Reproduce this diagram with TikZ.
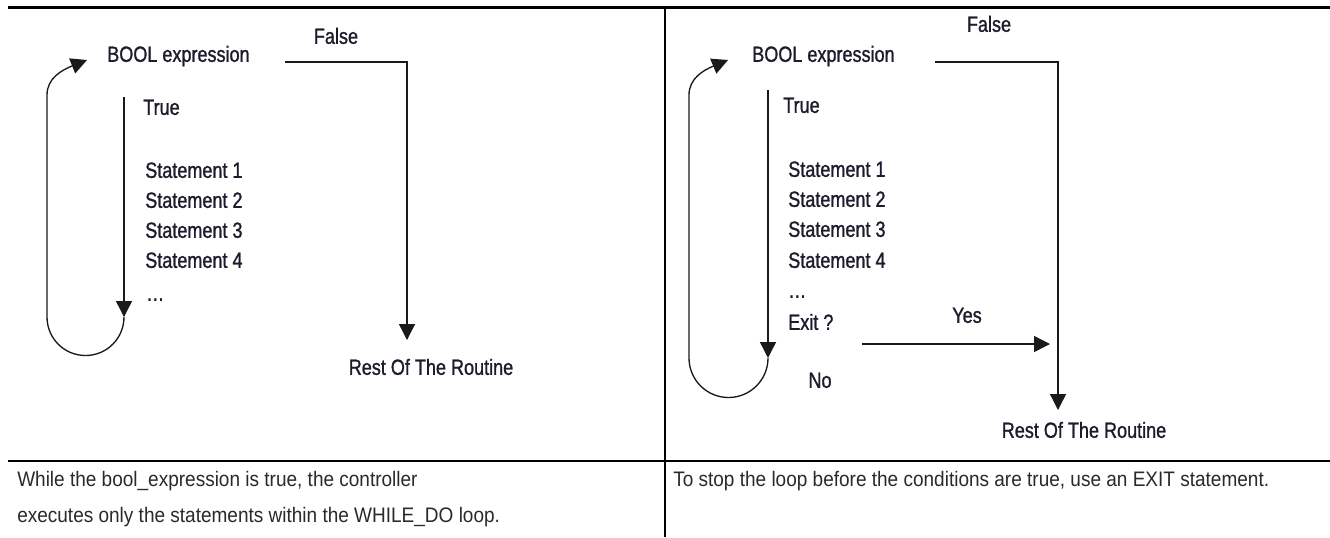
\documentclass[tikz,border=0pt]{standalone}
\usepackage{fontspec}
\setmainfont{Liberation Sans}
\newfontfamily\diagfont{Liberation Sans}[FakeStretch=0.82,FakeBold=1.1]
\newfontfamily\capfont{Liberation Sans}[FakeStretch=0.905]
\usetikzlibrary{arrows.meta}
\definecolor{txt}{HTML}{1C1C2C}
\definecolor{captxt}{HTML}{2A2A2A}
\definecolor{ln}{HTML}{1A1A1A}
\begin{document}
\begin{tikzpicture}[x=0.75pt,y=-0.75pt,
  lbl/.style={inner sep=0pt, anchor=west, text height=0.72em, text depth=0pt,
              font=\diagfont\fontsize{16.5}{19}\selectfont, text=txt},
  clbl/.style={lbl, anchor=center},
  captxt/.style={inner sep=0pt, anchor=west, text height=0.72em, text depth=0pt,
              font=\capfont\fontsize{15.75}{19}\selectfont, text=captxt},
  conn/.style={draw=ln, line width=1pt},
  arr/.style={-{Triangle[length=12pt,width=12pt]}},
  frame/.style={draw=black, line width=1.6pt}]
\useasboundingbox[fill=white] (0,0) rectangle (1330,537);

% table frame
\draw[frame] (8,7.5) -- (1330,7.5);
\draw[frame] (665,7.5) -- (665,537);
\draw[frame] (8,461) -- (1330,461);

% ---------- left panel ----------
\node[lbl] (boolL) at (107,57) {BOOL expression};
\node[clbl] (falseL) at (336,39) {False};
\node[lbl] (trueL) at (143,110) {True};
\node[lbl] (s1L) at (145,173) {Statement 1};
\node[lbl] (s2L) at (145,203) {Statement 2};
\node[lbl] (s3L) at (145,233) {Statement 3};
\node[lbl] (s4L) at (145,263) {Statement 4};
\node[lbl] (dotsL) at (146,296) {\ldots};
\node[clbl] (restL) at (431,370) {Rest Of The Routine};

\coordinate (fL1) at (285,62);
\coordinate (fL2) at (407,340);
\draw[conn,arr] (fL1) -| (fL2);

\coordinate (tL1) at (124,97);
\coordinate (tL2) at (124,317);
\coordinate (lL) at (87,60);
\draw[conn,arr] (tL1) -- (tL2);
\draw[conn,arr] (tL2) .. controls (124,338.3) and (106.8,355.5) .. (85.5,355.5)
  .. controls (64.2,355.5) and (47,338.3) .. (47,317) -- (47,95)
  .. controls (47,78) and (62,70) .. (lL);

% ---------- right panel ----------
\node[lbl] (boolR) at (752,57) {BOOL expression};
\node[clbl] (falseR) at (989,27) {False};
\node[lbl] (trueR) at (783,108) {True};
\node[lbl] (s1R) at (788,172) {Statement 1};
\node[lbl] (s2R) at (788,202) {Statement 2};
\node[lbl] (s3R) at (788,232) {Statement 3};
\node[lbl] (s4R) at (788,263) {Statement 4};
\node[lbl] (dotsR) at (788,293) {\ldots};
\node[lbl] (exitR) at (788,325) {Exit ?};
\node[clbl] (yesR) at (967,318) {Yes};
\node[clbl] (noR) at (820,383) {No};
\node[clbl] (restR) at (1084,433) {Rest Of The Routine};

\coordinate (fR1) at (935,62);
\coordinate (fR2) at (1058,410);
\draw[conn,arr] (fR1) -| (fR2);

\coordinate (yR1) at (862,344);
\coordinate (yR2) at (1050,344);
\draw[conn,arr] (yR1) -- (yR2);

\coordinate (tR1) at (768,90);
\coordinate (tR2) at (768,358);
\coordinate (lR) at (728,60);
\draw[conn,arr] (tR1) -- (tR2);
\draw[conn,arr] (tR2) .. controls (768,379.8) and (750.3,397.5) .. (728.5,397.5)
  .. controls (706.7,397.5) and (689,379.8) .. (689,358) -- (689,95)
  .. controls (689,78) and (704,70) .. (lR);

% ---------- captions ----------
\node[captxt] (capL1) at (17,482) {While the bool\_expression is true, the controller};
\node[captxt] (capL2) at (17,518) {executes only the statements within the WHILE\_DO loop.};
\node[captxt] (capR) at (673,482) {To stop the loop before the conditions are true, use an EXIT statement.};
\end{tikzpicture}
\end{document}
